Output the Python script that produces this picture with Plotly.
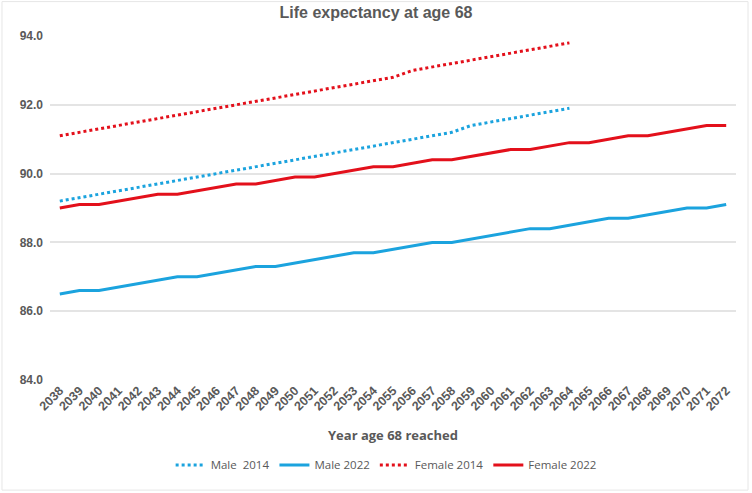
import plotly.graph_objects as go

years = [str(y) for y in range(2038, 2073)]

male_2014 = [89.2, 89.3, 89.4, 89.5, 89.6, 89.7, 89.8, 89.9, 90.0, 90.1, 90.2,
             90.3, 90.4, 90.5, 90.6, 90.7, 90.8, 90.9, 91.0, 91.1, 91.2, 91.4,
             91.5, 91.6, 91.7, 91.8, 91.9]
male_2022 = [86.5, 86.6, 86.6, 86.7, 86.8, 86.9, 87.0, 87.0, 87.1, 87.2, 87.3,
             87.3, 87.4, 87.5, 87.6, 87.7, 87.7, 87.8, 87.9, 88.0, 88.0, 88.1,
             88.2, 88.3, 88.4, 88.4, 88.5, 88.6, 88.7, 88.7, 88.8, 88.9, 89.0,
             89.0, 89.1]
female_2014 = [91.1, 91.2, 91.3, 91.4, 91.5, 91.6, 91.7, 91.8, 91.9, 92.0, 92.1,
               92.2, 92.3, 92.4, 92.5, 92.6, 92.7, 92.8, 93.0, 93.1, 93.2, 93.3,
               93.4, 93.5, 93.6, 93.7, 93.8]
female_2022 = [89.0, 89.1, 89.1, 89.2, 89.3, 89.4, 89.4, 89.5, 89.6, 89.7, 89.7,
               89.8, 89.9, 89.9, 90.0, 90.1, 90.2, 90.2, 90.3, 90.4, 90.4, 90.5,
               90.6, 90.7, 90.7, 90.8, 90.9, 90.9, 91.0, 91.1, 91.1, 91.2, 91.3,
               91.4, 91.4]
y_ticks = [84, 86, 88, 90, 92, 94]

blue = "#1BA3DE"
red = "#E3101B"
grey = "#595959"

series = [
    ("Male  2014", male_2014, blue, "dot"),
    ("Male 2022", male_2022, blue, "solid"),
    ("Female 2014", female_2014, red, "dot"),
    ("Female 2022", female_2022, red, "solid"),
]

fig = go.Figure()
for name, vals, color, dash in series:
    fig.add_trace(
        go.Scatter(
            x=years[: len(vals)],
            y=vals,
            mode="lines",
            name=name,
            line=dict(color=color, width=3, dash=dash),
        )
    )

# tick labels drawn bold, like the original spreadsheet chart
fig.update_xaxes(
    type="category",
    range=[-0.5, len(years) - 0.5],
    tickangle=-45,
    tickvals=years,
    ticktext=[f"<b>{y}</b>" for y in years],
    tickfont=dict(size=12.5, color=grey, family="Liberation Sans"),
    title=dict(text="<b>Year age 68 reached</b>", font=dict(size=13, color=grey), standoff=18),
    showgrid=False,
    showline=False,
    ticks="",
    automargin=False,
)
fig.update_yaxes(
    range=[84, 94],
    tickvals=y_ticks,
    ticktext=[f"<b>{v:.1f}</b>" for v in y_ticks],
    tickfont=dict(size=12, color=grey, family="Liberation Sans"),
    gridcolor="#E4E4E4",
    gridwidth=1.5,
    zeroline=False,
    ticks="",
    automargin=False,
    ticklabelstandoff=6,
)

fig.update_layout(
    width=752,
    height=493,
    title=dict(
        text="<b>Life expectancy at age 68</b>",
        x=0.5,
        xanchor="center",
        y=0.975,
        yanchor="middle",
        font=dict(size=16, color=grey, family="Liberation Sans"),
    ),
    font=dict(family="Open Sans", color=grey),
    plot_bgcolor="white",
    paper_bgcolor="white",
    margin=dict(l=50, r=16, t=36, b=113),
    legend=dict(
        orientation="h",
        x=0.49,
        xanchor="center",
        y=-0.247,
        yanchor="middle",
        font=dict(size=11.5, color=grey),
        itemwidth=30,
    ),
    shapes=[
        dict(type="rect", xref="paper", yref="paper", x0=-0.07, x1=1.0175,
             y0=-0.32, y1=1.1, line=dict(color="#E6E6E6", width=1)),
    ],
)

# drop the browser's default 8px body margin so the figure fills the window
fig.write_html(
    "out.html",
    config={"displayModeBar": False},
    post_script="document.body.style.margin = '0';",
)
